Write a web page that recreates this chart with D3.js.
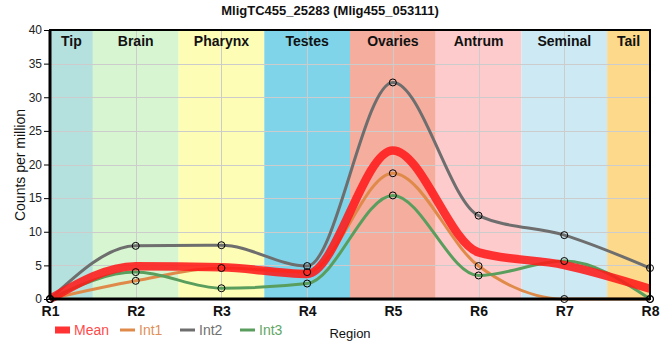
<!DOCTYPE html>
<html>
<head>
<meta charset="utf-8">
<script src="https://cdn.jsdelivr.net/npm/d3@7"></script>
<style>
html,body{margin:0;padding:0;background:#fff;}
svg{display:block;}
</style>
</head>
<body>
<svg id="chart" width="660" height="360"></svg>
<script>
const title = "MligTC455_25283 (Mlig455_053111)";
const regions = ["R1","R2","R3","R4","R5","R6","R7","R8"];
const bandNames = ["Tip","Brain","Pharynx","Testes","Ovaries","Antrum","Seminal","Tail"];
const bandColors = ["#b4e1de","#d6f5d0","#fdfdb5","#7fd4ea","#f5ad9e","#fdcbcb","#cdeaf4","#fdd98b"];
const int1 = [0, 2.7, 4.6, 4.0, 18.7, 4.9, 0, 0];
const int2 = [0, 7.9, 8.0, 4.9, 32.2, 12.4, 9.5, 4.6];
const int3 = [0, 4.0, 1.6, 2.3, 15.4, 3.5, 5.65, 0];
const meanVals = [0, 4.87, 4.73, 3.73, 22.1, 6.93, 5.05, 1.53];
const yTicks = [0,5,10,15,20,25,30,35,40];

const svg = d3.select("#chart");
const m = {left:50, right:10, top:30, bottom:61};
const W = 660, H = 360;
const x = d3.scalePoint().domain(regions).range([m.left, W - m.right]);
const y = d3.scaleLinear().domain([0,40]).range([H - m.bottom, m.top]);
const step = x.step();
const boldFont = "'Liberation Sans Narrow','Arial Narrow','Liberation Sans',Arial,sans-serif";

// bands
const bands = svg.append("g");
bandNames.forEach((b,i) => {
  const c = x(regions[i]);
  const x0 = Math.max(m.left, c - step/2), x1 = Math.min(W - m.right, c + step/2);
  bands.append("rect").attr("x", x0).attr("y", m.top).attr("width", x1 - x0)
    .attr("height", y(0) - m.top).attr("fill", bandColors[i]);
});

// grid
const grid = svg.append("g").attr("stroke", "#cccccc").attr("stroke-width", 1);
yTicks.slice(1, -1).forEach(t => {
  grid.append("line").attr("x1", m.left).attr("x2", W - m.right)
    .attr("y1", Math.round(y(t)) + 0.5).attr("y2", Math.round(y(t)) + 0.5);
});
regions.slice(1, -1).forEach(r => {
  grid.append("line").attr("y1", m.top).attr("y2", y(0))
    .attr("x1", Math.round(x(r)) + 0.5).attr("x2", Math.round(x(r)) + 0.5);
});

// band labels
bandNames.forEach((b,i) => {
  const c = x(regions[i]);
  const x0 = Math.max(m.left, c - step/2), x1 = Math.min(W - m.right, c + step/2);
  svg.append("text").attr("x", (x0 + x1)/2).attr("y", 46)
    .attr("text-anchor", "middle")
    .style("font-family", boldFont)
    .style("font-weight", "bold").style("font-size", "14px").attr("fill", "#111")
    .text(b);
});

// lines
const line = d3.line().x((d,i) => x(regions[i])).y(d => y(d)).curve(d3.curveMonotoneX);
const series = [
  {name:"Int1", vals:int1, color:"#e08a4a", width:3},
  {name:"Int2", vals:int2, color:"#6e6e6e", width:3},
  {name:"Int3", vals:int3, color:"#5a9e5e", width:3}
];
series.forEach(s => {
  svg.append("path").attr("d", line(s.vals)).attr("fill", "none")
    .attr("stroke", s.color).attr("stroke-width", s.width);
});
svg.append("path").attr("d", line(meanVals)).attr("fill", "none")
  .attr("stroke", "#ff1a1a").attr("stroke-width", 8.5).attr("opacity", 0.88);

// points
series.forEach(s => {
  svg.append("g").selectAll("circle").data(s.vals).join("circle")
    .attr("cx", (d,i) => x(regions[i])).attr("cy", d => y(d)).attr("r", 3.5)
    .attr("fill", "none").attr("stroke", "#000").attr("stroke-width", 1);
});

// frame
svg.append("rect").attr("x", m.left).attr("y", m.top)
  .attr("width", W - m.right - m.left).attr("height", y(0) - m.top)
  .attr("fill", "none").attr("stroke", "#000").attr("stroke-width", 2);
svg.append("line").attr("x1", m.left).attr("x2", W - m.right).attr("y1", y(0)).attr("y2", y(0))
  .attr("stroke", "#000").attr("stroke-width", 3);
svg.append("line").attr("x1", m.left).attr("x2", m.left).attr("y1", m.top).attr("y2", y(0))
  .attr("stroke", "#000").attr("stroke-width", 3);

// y axis
const yAxis = d3.axisLeft(y).tickValues(yTicks).tickSize(5).tickPadding(2);
const gy = svg.append("g").attr("transform", `translate(${m.left - 1},0)`).call(yAxis);
gy.select(".domain").remove();
gy.selectAll("text").style("font-family", "'Liberation Sans',Arial,sans-serif").style("font-size", "12px").attr("fill", "#222");
gy.selectAll("line").attr("stroke", "#000");

// x axis
const xAxis = d3.axisBottom(x).tickSize(0).tickPadding(7);
const gx = svg.append("g").attr("transform", `translate(0,${y(0)})`).call(xAxis);
gx.select(".domain").remove();
gx.selectAll("text").style("font-family", boldFont)
  .style("font-weight", "bold").style("font-size", "14px").attr("fill", "#111");

// title
svg.append("text").attr("x", 330).attr("y", 15).attr("text-anchor", "middle")
  .style("font-family", boldFont)
  .style("font-weight", "bold").style("font-size", "13px").attr("fill", "#111").text(title);

// y label
svg.append("text").attr("transform", "translate(25,165) rotate(-90)").attr("text-anchor", "middle")
  .style("font-family", "'Liberation Sans',Arial,sans-serif").style("font-size", "14px").attr("fill", "#111")
  .text("Counts per million");

// x label
svg.append("text").attr("x", 350).attr("y", 338).attr("text-anchor", "middle")
  .style("font-family", boldFont)
  .style("font-size", "13px").attr("fill", "#111").text("Region");

// legend
const legend = [
  {name:"Mean", color:"#ff3333", tcolor:"#ff4b4b", width:7, lx:55},
  {name:"Int1", color:"#e08a4a", tcolor:"#e0905a", width:3, lx:120},
  {name:"Int2", color:"#6e6e6e", tcolor:"#707070", width:3, lx:180},
  {name:"Int3", color:"#5a9e5e", tcolor:"#62a666", width:3, lx:240}
];
legend.forEach(l => {
  svg.append("line").attr("x1", l.lx).attr("x2", l.lx + 15).attr("y1", 330).attr("y2", 330)
    .attr("stroke", l.color).attr("stroke-width", l.width);
  svg.append("text").attr("x", l.lx + 19).attr("y", 335)
    .style("font-family", boldFont)
    .style("font-size", "14px").attr("fill", l.tcolor).text(l.name);
});
</script>
</body>
</html>
